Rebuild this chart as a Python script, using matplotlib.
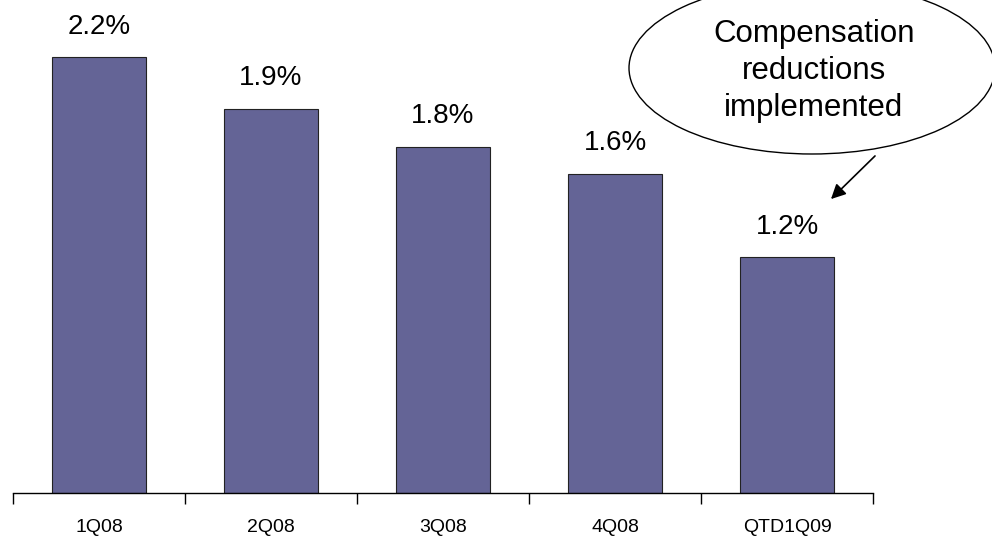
import matplotlib
matplotlib.use("Agg")
import matplotlib.pyplot as plt
from matplotlib.patches import Ellipse

# data (bar heights are unrounded, labels are rounded)
quarters = ["1Q08", "2Q08", "3Q08", "4Q08", "QTD1Q09"]
values = [2.2, 1.94, 1.75, 1.61, 1.19]
labels = ["2.2%", "1.9%", "1.8%", "1.6%", "1.2%"]
note = "Compensation\nreductions\nimplemented"

plt.rcParams["font.family"] = ["Liberation Sans", "DejaVu Sans"]

fig = plt.figure(figsize=(9.92, 5.37), dpi=100)
ax = fig.add_axes([13 / 992, 1 - 493 / 537, 860 / 992, 493 / 537])

x = range(len(quarters))
ax.bar(x, values, width=0.55, color="#646496", edgecolor="#222222", linewidth=0.8)

for i, (v, lab) in enumerate(zip(values, labels)):
    ax.text(i, v + 0.09, lab, ha="center", va="bottom", fontsize=20)

ax.set_xlim(-0.5, len(quarters) - 0.5)
ax.set_ylim(0, 2.49)
ax.set_xticks([i - 0.5 for i in range(len(quarters) + 1)])
ax.set_xticklabels([])
ax.set_xticks(list(x), minor=True)
ax.set_xticklabels(quarters, minor=True, fontsize=14)
ax.tick_params(axis="x", which="major", direction="out", length=8, width=1)
ax.tick_params(axis="x", which="minor", length=0, pad=19)
ax.set_yticks([])
for s in ["left", "right", "top"]:
    ax.spines[s].set_visible(False)
ax.spines["bottom"].set_linewidth(1)

# callout bubble with arrow, in figure pixels
ov = fig.add_axes([0, 0, 1, 1], facecolor="none")
ov.set_xlim(0, 992)
ov.set_ylim(537, 0)
ov.axis("off")
ov.add_patch(Ellipse((812, 68), 366, 172, facecolor="white", edgecolor="black", linewidth=1))
ov.text(814, 71, note, ha="center", va="center", fontsize=22.5, linespacing=1.32)
ov.annotate("", xy=(829, 201), xytext=(877, 154),
            arrowprops=dict(arrowstyle="-|>", color="black", lw=1.2, mutation_scale=22))

fig.savefig("out.png", dpi=100)
